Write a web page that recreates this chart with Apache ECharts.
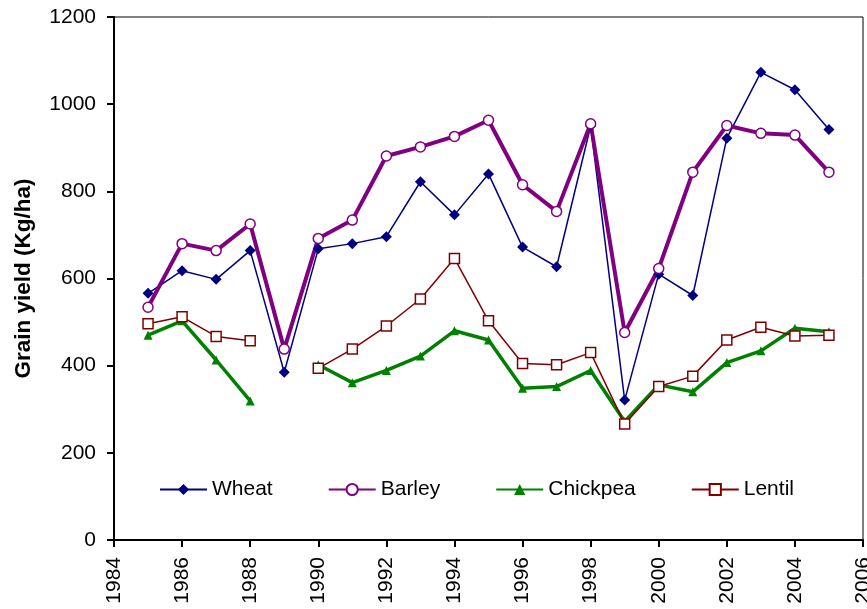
<!DOCTYPE html>
<html>
<head>
<meta charset="utf-8">
<script src="https://cdn.jsdelivr.net/npm/echarts@6/dist/echarts.min.js"></script>
<style>html,body{margin:0;padding:0;background:#fff;}#c{width:867px;height:609px;}</style>
</head>
<body>
<div id="c"></div>
<script>
const years = [1985,1986,1987,1988,1989,1990,1991,1992,1993,1994,1995,1996,1997,1998,1999,2000,2001,2002,2003,2004,2005];
const wheat = [566,618,598,664,385,668,680,696,822,746,840,672,627,950,321,610,561,922,1073,1033,942];
const barley = [534,680,664,725,438,692,734,881,902,926,963,815,754,955,476,623,844,951,933,929,844];
const chickpea = [470,503,413,319,null,402,361,389,422,480,459,348,352,389,272,356,340,407,434,486,478];
const lentil = [496,512,467,457,null,394,438,491,553,646,503,405,402,430,266,352,376,459,488,468,470];
const xTicks = {min:1984, max:2006, interval:2};
const yTicks = {min:0, max:1200, interval:200};

const pairs = arr => years.map((y,i)=>[y, arr[i]]);
const font = 'Arial, "Liberation Sans", sans-serif';
const chart = echarts.init(document.getElementById('c'), null, {renderer:'canvas'});
chart.setOption({
  animation:false,
  backgroundColor:'#fff',
  grid:{left:114, right:4, top:17, bottom:69, show:true, borderColor:'#000', borderWidth:1,
        backgroundColor:'transparent', containLabel:false, outerBoundsMode:'none'},
  legend:{
    left:159, top:479, padding:0, itemWidth:47, itemHeight:14, itemGap:55,
    textStyle:{fontFamily:font, fontSize:21, color:'#000'},
    data:['Wheat','Barley','Chickpea','Lentil']
  },
  xAxis:{
    type:'value', min:xTicks.min, max:xTicks.max, interval:xTicks.interval,
    axisLine:{show:true, lineStyle:{color:'#000', width:2}},
    axisTick:{show:true, inside:false, length:7, lineStyle:{color:'#000', width:2}},
    axisLabel:{rotate:90, margin:17, fontFamily:font, fontSize:21, color:'#000', formatter:v=>String(v), hideOverlap:false},
    splitLine:{show:false}
  },
  yAxis:{
    type:'value', min:yTicks.min, max:yTicks.max, interval:yTicks.interval,
    name:'Grain yield (Kg/ha)', nameLocation:'middle', nameGap:79,
    nameTextStyle:{fontFamily:font, fontSize:22.5, fontWeight:'bold', color:'#000'},
    axisLine:{show:true, lineStyle:{color:'#000', width:2}},
    axisTick:{show:true, inside:false, length:7, lineStyle:{color:'#000', width:2}},
    axisLabel:{margin:18, fontFamily:font, fontSize:21, color:'#000', formatter:v=>String(v)},
    splitLine:{show:false}
  },
  series:[
    {name:'Wheat', type:'line', data:pairs(wheat), symbol:'diamond', symbolSize:11,
     lineStyle:{color:'#000080', width:1.5}, itemStyle:{color:'#000080'}},
    {name:'Barley', type:'line', data:pairs(barley), symbol:'circle', symbolSize:10,
     lineStyle:{color:'#800080', width:4}, itemStyle:{color:'#fff', borderColor:'#800080', borderWidth:1.5}},
    {name:'Chickpea', type:'line', data:pairs(chickpea), symbol:'triangle', symbolSize:9, connectNulls:false,
     lineStyle:{color:'#008000', width:3.5}, itemStyle:{color:'#008000'}},
    {name:'Lentil', type:'line', data:pairs(lentil), symbol:'rect', symbolSize:10, connectNulls:false,
     lineStyle:{color:'#800000', width:1.5}, itemStyle:{color:'#fff', borderColor:'#800000', borderWidth:1.5}}
  ]
});
</script>
</body>
</html>
